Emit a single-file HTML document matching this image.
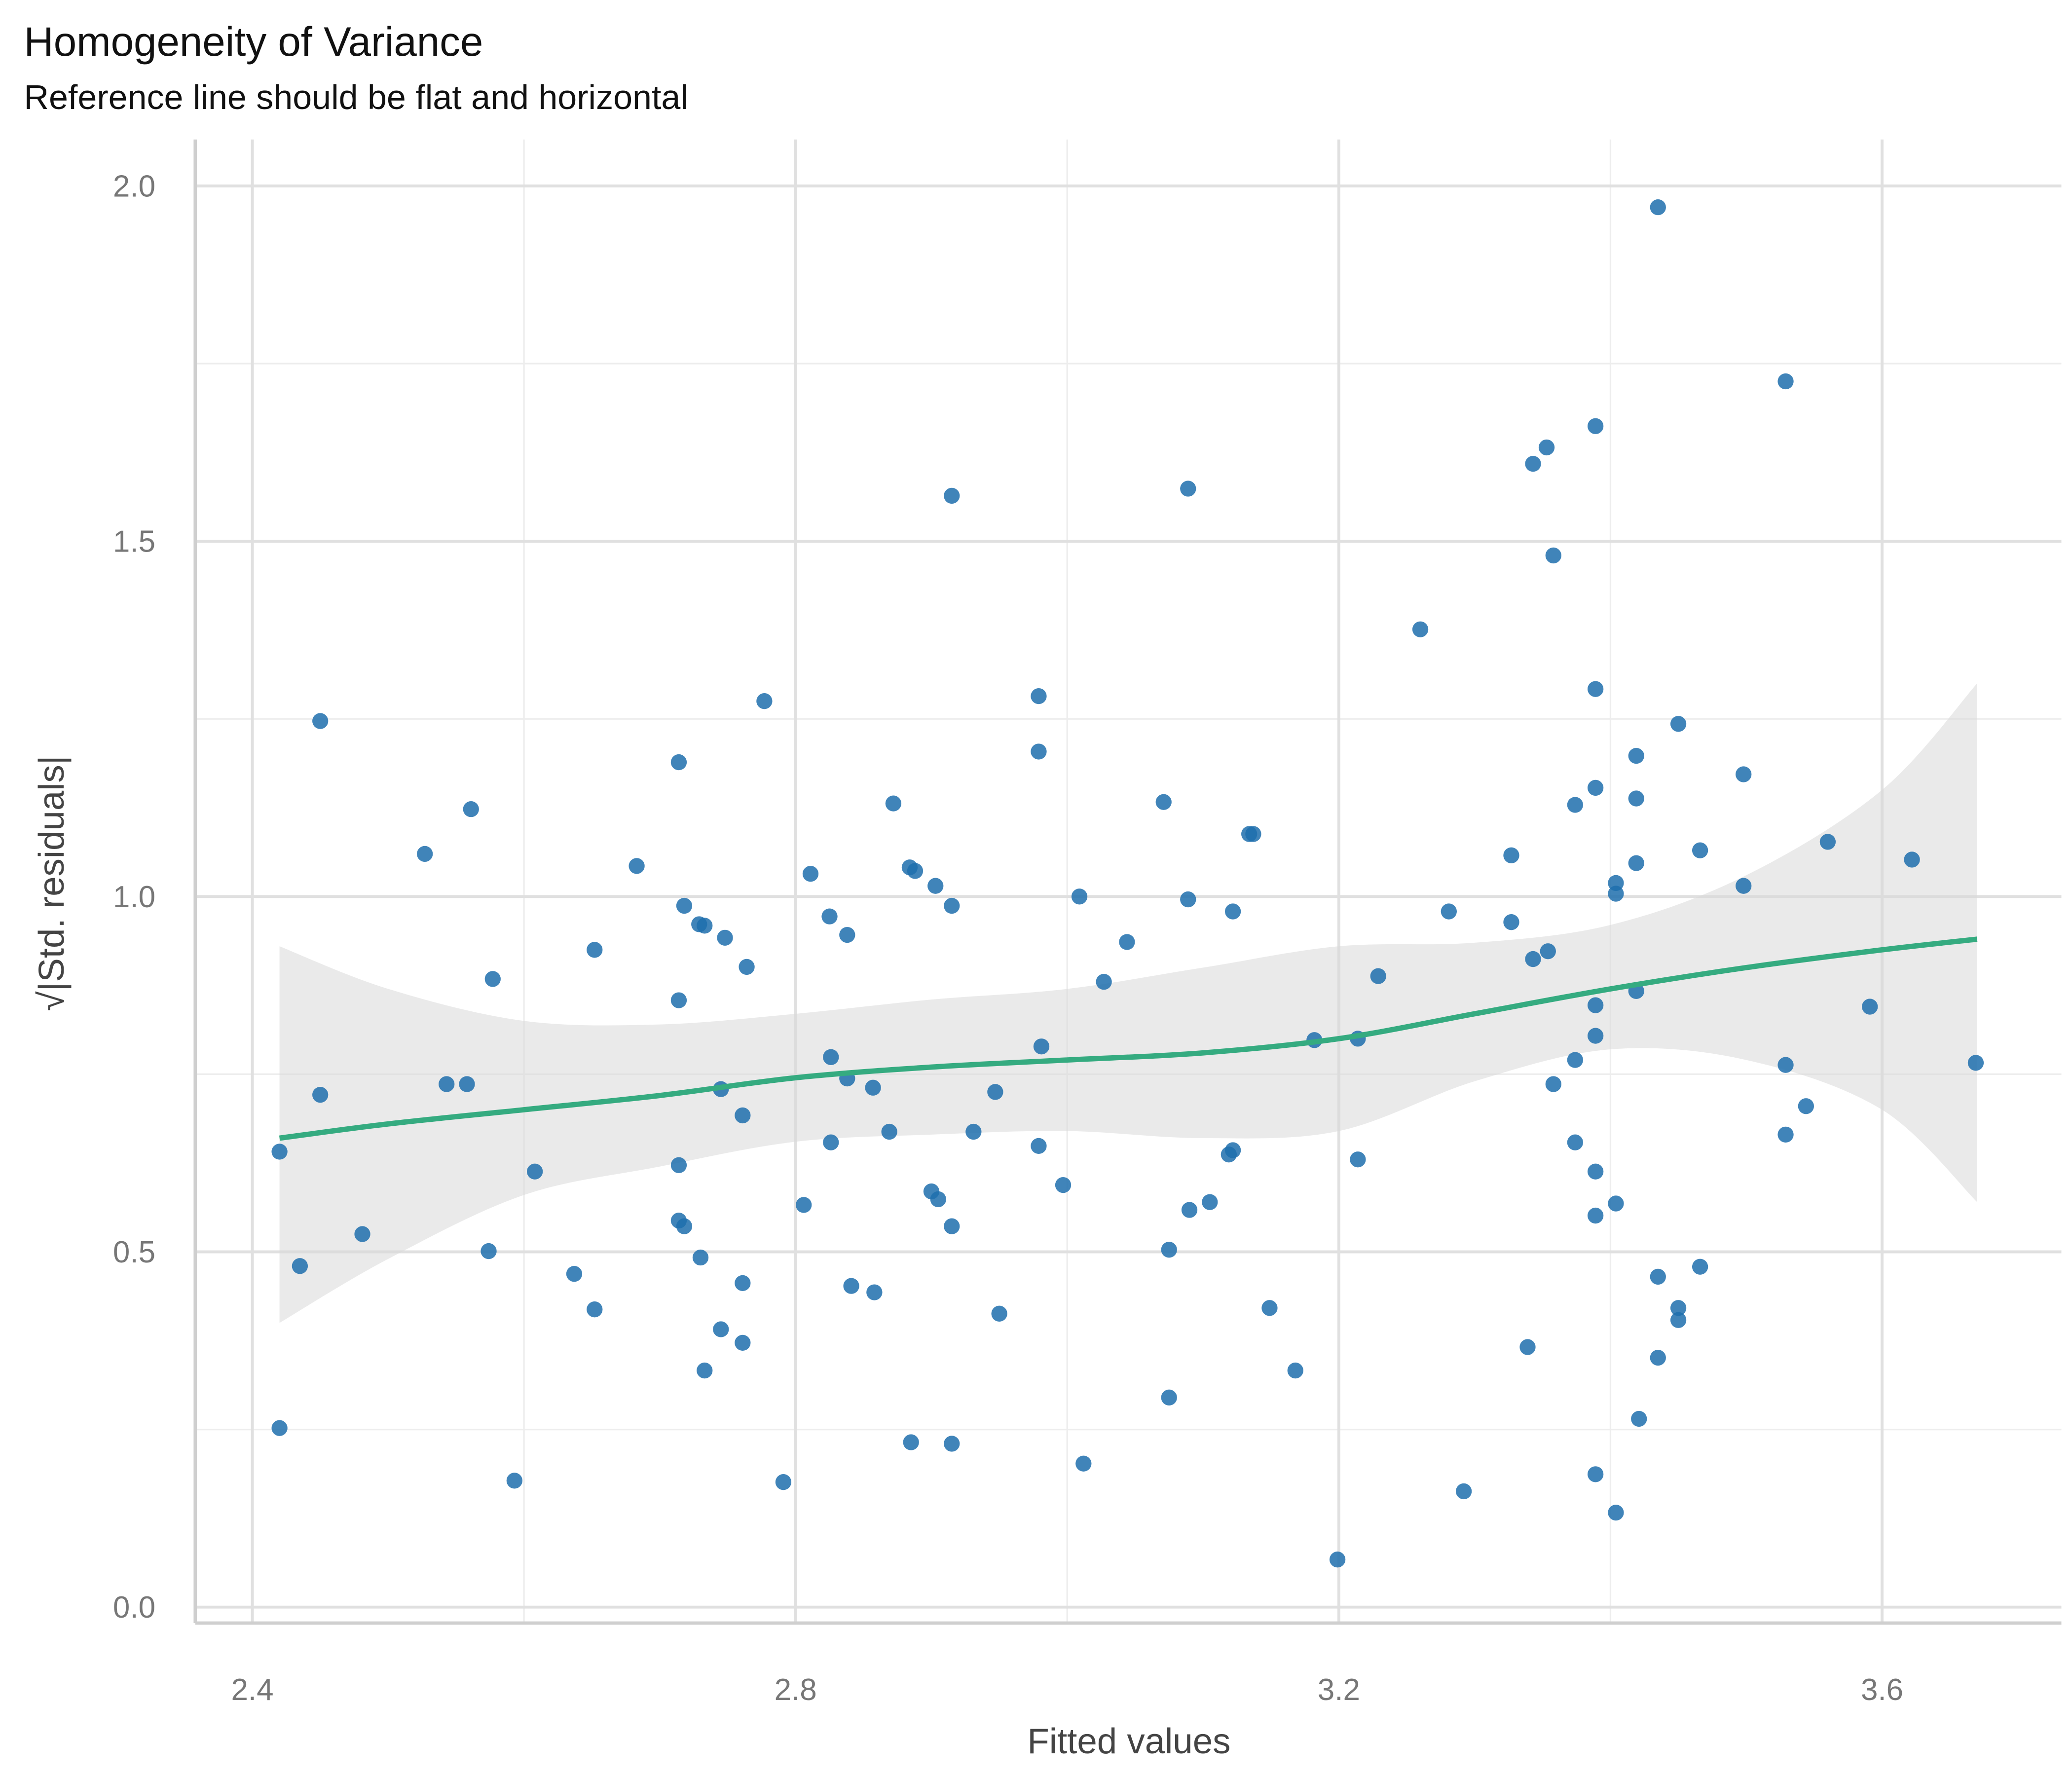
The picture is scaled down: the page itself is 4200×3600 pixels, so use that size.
<!DOCTYPE html>
<html><head><meta charset="utf-8"><style>
html,body{margin:0;padding:0;background:#fff;}
svg{display:block;font-family:"Liberation Sans","DejaVu Sans",sans-serif;}
</style></head><body>
<svg id="chart" width="4200" height="3600" viewBox="0 0 1560 1337.14" preserveAspectRatio="none" xmlns="http://www.w3.org/2000/svg">
<rect width="1560" height="1337.14" fill="#fff"/>
<text x="18" y="42" font-size="31" fill="#111">Homogeneity of Variance</text>
<text x="18" y="82" font-size="26" fill="#111">Reference line should be flat and horizontal</text>
<g id="grid"></g>
<g id="band"></g>
<g id="points"></g>
<g id="line"></g>
<g id="axes"></g>
<text x="850" y="1320" font-size="27" fill="#444" text-anchor="middle">Fitted values</text>
<text transform="translate(48,665) rotate(-90)" font-size="27" fill="#444" text-anchor="middle">√|Std. residuals|</text>
</svg>
<script>
const xs=[2.420,2.420,2.435,2.450,2.450,2.481,2.527,2.543,2.558,2.561,2.574,2.577,2.593,2.608,2.637,2.652,2.652,2.683,2.714,2.714,2.714,2.714,2.718,2.718,2.729,2.730,2.733,2.733,2.745,2.745,2.748,2.761,2.761,2.761,2.764,2.777,2.791,2.806,2.811,2.825,2.826,2.826,2.838,2.838,2.841,2.857,2.858,2.869,2.872,2.884,2.885,2.888,2.900,2.903,2.905,2.915,2.915,2.915,2.915,2.931,2.947,2.950,2.979,2.979,2.981,2.979,2.997,3.009,3.012,3.027,3.044,3.071,3.075,3.075,3.089,3.089,3.090,3.105,3.119,3.122,3.122,3.134,3.137,3.149,3.168,3.182,3.199,3.214,3.214,3.229,3.260,3.281,3.292,3.327,3.327,3.339,3.343,3.343,3.354,3.353,3.358,3.358,3.374,3.374,3.374,3.389,3.389,3.389,3.389,3.389,3.389,3.389,3.389,3.404,3.404,3.404,3.404,3.419,3.419,3.419,3.419,3.421,3.435,3.435,3.435,3.450,3.450,3.450,3.466,3.466,3.498,3.498,3.529,3.529,3.529,3.544,3.560,3.591,3.622,3.669];
const ys=[0.641,0.252,0.480,0.721,1.247,0.525,1.060,0.736,0.736,1.123,0.501,0.884,0.178,0.613,0.469,0.419,0.925,1.043,1.189,0.854,0.622,0.544,0.987,0.536,0.961,0.492,0.959,0.333,0.391,0.729,0.942,0.692,0.456,0.372,0.901,1.275,0.176,0.566,1.032,0.972,0.774,0.654,0.946,0.744,0.452,0.731,0.443,0.669,1.131,1.041,0.232,1.036,0.585,1.015,0.574,0.536,0.230,0.987,1.564,0.669,0.725,0.413,1.282,1.204,0.789,0.649,0.594,1.000,0.202,0.880,0.936,1.133,0.503,0.295,1.574,0.996,0.559,0.570,0.637,0.643,0.979,1.088,1.088,0.421,0.333,0.798,0.067,0.800,0.630,0.888,1.376,0.979,0.163,1.058,0.964,0.366,1.609,0.912,0.923,1.632,1.480,0.736,0.770,1.129,0.654,1.662,1.292,1.153,0.847,0.804,0.613,0.551,0.187,1.019,1.004,0.568,0.133,1.198,1.138,1.047,0.867,0.265,1.970,0.465,0.351,1.243,0.421,0.404,1.065,0.479,1.172,1.015,1.725,0.763,0.665,0.705,1.077,0.845,1.052,0.766];
const fitX=[2.42,2.5,2.6,2.7,2.8,2.9,3.0,3.1,3.2,3.3,3.4,3.5,3.6,3.67];
const fitY=[0.66,0.68,0.70,0.72,0.745,0.76,0.77,0.78,0.80,0.835,0.87,0.90,0.925,0.94];
const upperY=[0.93,0.87,0.825,0.82,0.835,0.855,0.87,0.90,0.93,0.935,0.96,1.03,1.15,1.30];
const lowerY=[0.40,0.49,0.58,0.62,0.655,0.665,0.67,0.66,0.67,0.74,0.785,0.77,0.70,0.57];
const xTicks=[2.4,2.8,3.2,3.6];
const xMinor=[2.6,3.0,3.4];
const yTicks=[0.0,0.5,1.0,1.5,2.0];
const yMinor=[0.25,0.75,1.25,1.75];
const yLabels=["0.0","0.5","1.0","1.5","2.0"];
const xLabels=["2.4","2.8","3.2","3.6"];

const X=v=>190+(v-2.4)*1022.5;
const Y=v=>1210-v*535;
const NS="http://www.w3.org/2000/svg";
function mk(tag,parent,attrs){const e=document.createElementNS(NS,tag);for(const k in attrs)e.setAttribute(k,attrs[k]);parent.appendChild(e);return e;}
function smooth(P){let d='';for(let i=0;i<P.length-1;i++){const p0=P[i-1]||P[i],p1=P[i],p2=P[i+1],p3=P[i+2]||p2;
const c1=[p1[0]+(p2[0]-p0[0])/6,p1[1]+(p2[1]-p0[1])/6],c2=[p2[0]-(p3[0]-p1[0])/6,p2[1]-(p3[1]-p1[1])/6];
d+='C'+c1.join(',')+' '+c2.join(',')+' '+p2.join(',');}return d;}
const L=147,R=1552,T=105,B=1222;
const grid=document.getElementById('grid');
xMinor.forEach(v=>{const e=mk('line',grid,{x1:X(v),x2:X(v),y1:T,y2:B,stroke:'#ededed','stroke-width':1.2});

});
yMinor.forEach(v=>{const e=mk('line',grid,{x1:L,x2:R,y1:Y(v),y2:Y(v),stroke:'#ededed','stroke-width':1.2});

});
xTicks.forEach((v,i)=>{const e=mk('line',grid,{x1:X(v),x2:X(v),y1:T,y2:B,stroke:'#e0e0e0','stroke-width':2.2});


const t=mk('text',grid,{x:X(v),y:1280,'font-size':23,fill:'#777','text-anchor':'middle'});t.textContent=xLabels[i];

});
yTicks.forEach((v,i)=>{const e=mk('line',grid,{x1:L,x2:R,y1:Y(v),y2:Y(v),stroke:'#e0e0e0','stroke-width':2.2});


const t=mk('text',grid,{x:117,y:Y(v)+8,'font-size':23,fill:'#777','text-anchor':'end'});t.textContent=yLabels[i];

});
const band=document.getElementById('band');
const up=fitX.map((v,i)=>[X(v),Y(upperY[i])]);
const lo=fitX.map((v,i)=>[X(v),Y(lowerY[i])]).reverse();
const d='M'+up[0].join(',')+smooth(up)+'L'+lo[0].join(',')+smooth(lo)+'Z';
const bp=mk('path',band,{d:d,fill:'#d9d9d9','fill-opacity':0.55});


const pts=document.getElementById('points');
xs.forEach((v,i)=>{const c=mk('circle',pts,{cx:X(v),cy:Y(ys[i]),r:6,fill:'#1f6ead','fill-opacity':0.85});

});
const ln=document.getElementById('line');
const fp=fitX.map((v,i)=>[X(v),Y(fitY[i])]);
const p=mk('path',ln,{d:'M'+fp[0].join(',')+smooth(fp),fill:'none',stroke:'#35ab80','stroke-width':4});


const ax=document.getElementById('axes');
const a1=mk('line',ax,{x1:L,x2:L,y1:T,y2:B,stroke:'#cfcfcf','stroke-width':2.5});


const a2=mk('line',ax,{x1:L,x2:R,y1:B,y2:B,stroke:'#cfcfcf','stroke-width':2.5});


</script>
</body></html>
